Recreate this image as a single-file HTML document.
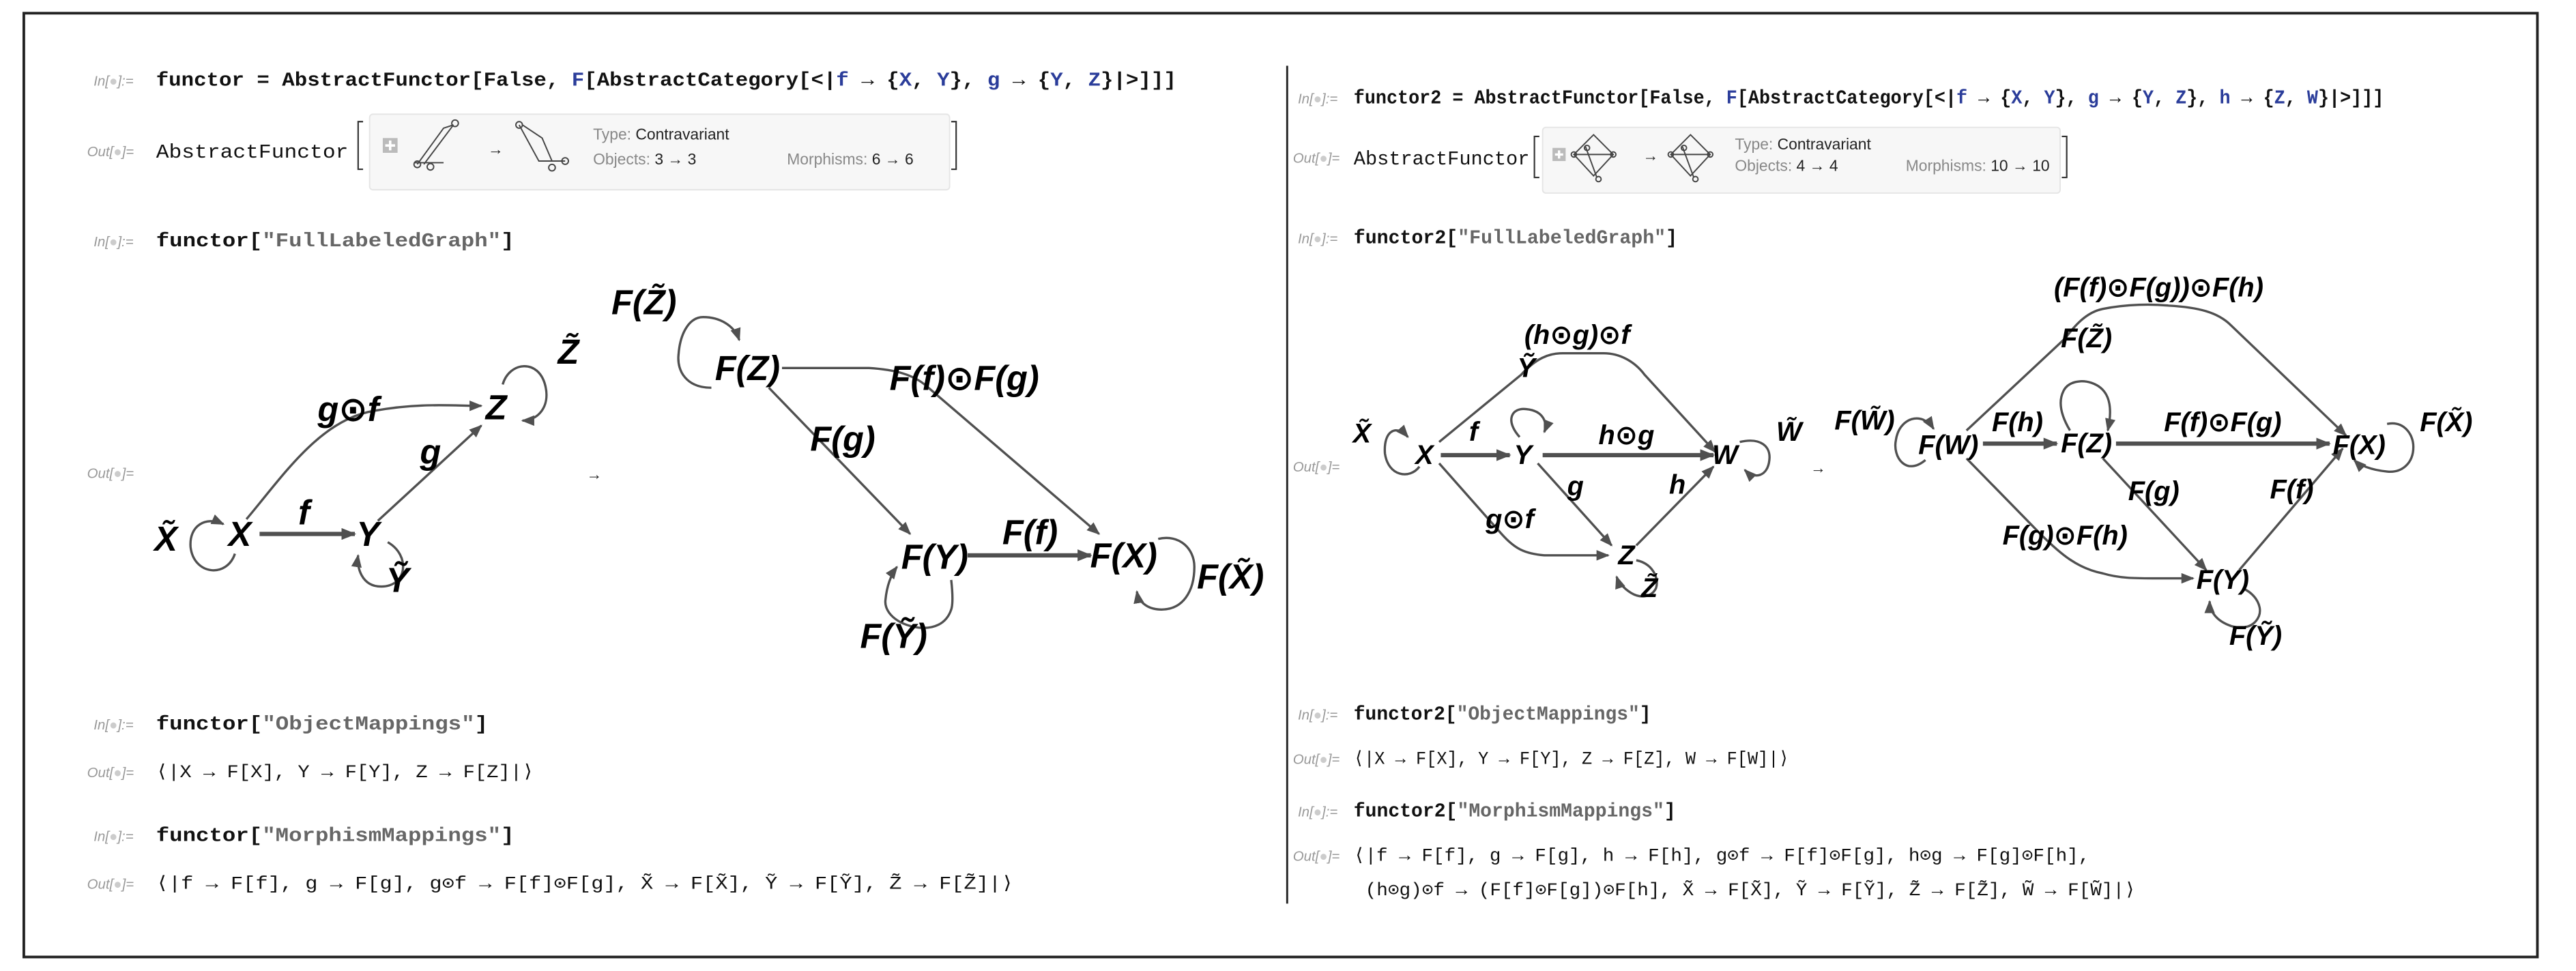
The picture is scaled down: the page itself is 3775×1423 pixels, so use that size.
<!DOCTYPE html>
<html><head><meta charset="utf-8">
<style>
html,body{margin:0;padding:0;background:#fff;}
svg{display:block;}
.lbl{font-family:"Liberation Sans",Arial,sans-serif;font-style:italic;font-size:8.5px;fill:#999;}
.code{font-family:"Liberation Mono","DejaVu Sans Mono",monospace;font-weight:bold;font-size:12px;fill:#111;}
.out{font-family:"Liberation Mono","DejaVu Sans Mono",monospace;font-size:11px;fill:#111;}
.b{fill:#2b3d9a;}
.s{fill:#666;}
.g1{font-family:"Liberation Sans","DejaVu Sans",sans-serif;font-weight:bold;font-style:italic;font-size:21px;fill:#000;}
.g2{font-family:"Liberation Sans","DejaVu Sans",sans-serif;font-weight:bold;font-style:italic;font-size:16.5px;fill:#000;}
.e{fill:none;stroke:#505050;stroke-width:1.4;}
.t{fill:none;stroke:#505050;stroke-width:2.6;}
.sm{font-family:"Liberation Sans",Arial,sans-serif;font-size:9.5px;fill:#222;}
.smg{font-family:"Liberation Sans",Arial,sans-serif;font-size:9.5px;fill:#888;}
</style></head>
<body>
<svg width="3775" height="1423" viewBox="0 0 1568 591" xmlns="http://www.w3.org/2000/svg">
<defs>
<marker id="a" viewBox="0 0 10 8" refX="9" refY="4" markerWidth="8" markerHeight="6.4" markerUnits="userSpaceOnUse" orient="auto"><path d="M0,0 L10,4 L0,8 z" fill="#505050"/></marker>
<marker id="at" viewBox="0 0 10 8" refX="9" refY="4" markerWidth="9" markerHeight="7.2" markerUnits="userSpaceOnUse" orient="auto"><path d="M0,0 L10,4 L0,8 z" fill="#505050"/></marker>
</defs>
<rect x="0" y="0" width="1568" height="591" fill="#fff"/>
<rect x="14.5" y="8" width="1530" height="574.5" fill="none" stroke="#222" stroke-width="1.6"/>
<line x1="783.5" y1="40" x2="783.5" y2="550" stroke="#222" stroke-width="1.2"/>

<!-- LEFT PANEL -->
<text class="lbl" x="57" y="52">In[<tspan fill="#ccc">●</tspan>]:=</text>
<text class="code" x="95" y="52" textLength="621" lengthAdjust="spacingAndGlyphs">functor = AbstractFunctor[False, <tspan class="b">F</tspan>[AbstractCategory[&lt;|<tspan class="b">f</tspan> → {<tspan class="b">X</tspan>, <tspan class="b">Y</tspan>}, <tspan class="b">g</tspan> → {<tspan class="b">Y</tspan>, <tspan class="b">Z</tspan>}|&gt;]]]</text>

<text class="lbl" x="53" y="95">Out[<tspan fill="#ccc">●</tspan>]=</text>
<text class="code" style="font-weight:normal" x="95" y="96" textLength="117" lengthAdjust="spacingAndGlyphs">AbstractFunctor</text>
<path d="M221,74 L218,74 L218,103 L221,103" fill="none" stroke="#333" stroke-width="0.9"/>
<rect x="225" y="69.5" width="353" height="46" rx="2" fill="#f7f7f7" stroke="#e5e5e5" stroke-width="0.8"/>
<rect x="233" y="84" width="9" height="9" fill="#bbb"/><path d="M237.5,85.5 v6 M234.5,88.5 h6" stroke="#fff" stroke-width="1.5"/>
<g fill="none" stroke="#444" stroke-width="0.8">
<path d="M254,100 L270,78 L276,76 M258,100 L270,84 L276,76 M252,99 h18"/><circle cx="254" cy="100" r="2"/><circle cx="262" cy="101.5" r="2"/><circle cx="277" cy="75" r="2"/>
<path d="M316,76 L328,98 L334,98 M318,76 L330,84 L336,98 M328,98 h16"/><circle cx="316" cy="76" r="2"/><circle cx="336" cy="102" r="2"/><circle cx="344" cy="98" r="2"/>
</g>
<text class="sm" x="297" y="94">→</text>
<text class="sm" x="361" y="85"><tspan fill="#888">Type: </tspan>Contravariant</text>
<text class="sm" x="361" y="100"><tspan fill="#888">Objects: </tspan>3 → 3</text>
<text class="sm" x="479" y="100"><tspan fill="#888">Morphisms: </tspan>6 → 6</text>
<path d="M579,74 L582,74 L582,103 L579,103" fill="none" stroke="#333" stroke-width="0.9"/>

<text class="lbl" x="57" y="150">In[<tspan fill="#ccc">●</tspan>]:=</text>
<text class="code" x="95" y="150" textLength="218" lengthAdjust="spacingAndGlyphs">functor[<tspan class="s">"FullLabeledGraph"</tspan>]</text>

<text class="lbl" x="53" y="291">Out[<tspan fill="#ccc">●</tspan>]=</text>
<text class="sm" x="357" y="292">→</text>

<!-- graph 1 -->
<path class="t" d="M158,325 L216,325" marker-end="url(#at)"/>
<path class="e" d="M150,316 C172,290 195,255 228,250 C255,245 275,247 293,247" marker-end="url(#a)"/>
<path class="e" d="M230,317 L293,259" marker-end="url(#a)"/>
<path class="e" d="M143,337 C138,352 118,350 116,333 C115,320 125,314 136,319" marker-end="url(#a)"/>
<path class="e" d="M236,330 C250,338 248,357 232,357 C220,357 217,345 218,338" marker-end="url(#a)"/>
<path class="e" d="M306,234 C310,220 328,218 332,235 C335,248 327,256 318,256" marker-end="url(#a)"/>
<g class="g1" text-anchor="middle" dominant-baseline="central">
<text x="101" y="328">X̃</text>
<text x="146" y="325">X</text>
<text x="224" y="325">Y</text>
<text x="302" y="248">Z</text>
<text x="346" y="214">Z̃</text>
<text x="242" y="353">Ỹ</text>
<text x="185" y="312">f</text>
<text x="262" y="275">g</text>
<text x="212" y="249">g⊙f</text>
</g>

<!-- graph 1 image -->
<path class="e" d="M476,224 L529,224 C545,225 556,228 564,235 L669,325" marker-end="url(#a)"/>
<path class="e" d="M468,236 L554,325" marker-end="url(#a)"/>
<path class="t" d="M589,338 L664,338" marker-end="url(#at)"/>
<path class="e" d="M433,236 C418,236 412,226 413,216 C414,202 420,193 428,193 C438,193 447,198 450,207" marker-end="url(#a)"/>
<path class="e" d="M579,353 C580,362 580,368 579,371 C576,380 568,383 559,382 C545,380 538,372 539,365 C540,355 543,349 546,345" marker-end="url(#a)"/>
<path class="e" d="M705,328 C718,325 727,334 727,345 C727,360 720,371 707,371 C698,371 693,366 692,360" marker-end="url(#a)"/>
<g class="g1" text-anchor="middle" dominant-baseline="central">
<text x="392" y="184">F(Z̃)</text>
<text x="455" y="224">F(Z)</text>
<text x="587" y="230">F(f)⊙F(g)</text>
<text x="513" y="267">F(g)</text>
<text x="569" y="339">F(Y)</text>
<text x="627" y="324">F(f)</text>
<text x="684" y="338">F(X)</text>
<text x="749" y="351">F(X̃)</text>
<text x="544" y="387">F(Ỹ)</text>
</g>

<text class="lbl" x="57" y="444">In[<tspan fill="#ccc">●</tspan>]:=</text>
<text class="code" x="95" y="444" textLength="202" lengthAdjust="spacingAndGlyphs">functor[<tspan class="s">"ObjectMappings"</tspan>]</text>
<text class="lbl" x="53" y="473">Out[<tspan fill="#ccc">●</tspan>]=</text>
<text class="out" x="95" y="473" textLength="230" lengthAdjust="spacingAndGlyphs">⟨|X → F[X], Y → F[Y], Z → F[Z]|⟩</text>
<text class="lbl" x="57" y="512">In[<tspan fill="#ccc">●</tspan>]:=</text>
<text class="code" x="95" y="512" textLength="218" lengthAdjust="spacingAndGlyphs">functor[<tspan class="s">"MorphismMappings"</tspan>]</text>
<text class="lbl" x="53" y="541">Out[<tspan fill="#ccc">●</tspan>]=</text>
<text class="out" x="95" y="541" textLength="522" lengthAdjust="spacingAndGlyphs">⟨|f → F[f], g → F[g], g⊙f → F[f]⊙F[g], X̃ → F[X̃], Ỹ → F[Ỹ], Z̃ → F[Z̃]|⟩</text>

<!-- RIGHT PANEL -->
<text class="lbl" x="790" y="63">In[<tspan fill="#ccc">●</tspan>]:=</text>
<text class="code" x="824" y="63" textLength="627" lengthAdjust="spacingAndGlyphs">functor2 = AbstractFunctor[False, <tspan class="b">F</tspan>[AbstractCategory[&lt;|<tspan class="b">f</tspan> → {<tspan class="b">X</tspan>, <tspan class="b">Y</tspan>}, <tspan class="b">g</tspan> → {<tspan class="b">Y</tspan>, <tspan class="b">Z</tspan>}, <tspan class="b">h</tspan> → {<tspan class="b">Z</tspan>, <tspan class="b">W</tspan>}|&gt;]]]</text>

<text class="lbl" x="787" y="99">Out[<tspan fill="#ccc">●</tspan>]=</text>
<text class="code" style="font-weight:normal" x="824" y="100" textLength="107" lengthAdjust="spacingAndGlyphs">AbstractFunctor</text>
<path d="M937,83 L934,83 L934,108 L937,108" fill="none" stroke="#333" stroke-width="0.9"/>
<rect x="939" y="77.5" width="315" height="40" rx="2" fill="#f7f7f7" stroke="#e5e5e5" stroke-width="0.8"/>
<rect x="945" y="90" width="8" height="8" fill="#bbb"/><path d="M949,91.5 v5 M946.5,94 h5" stroke="#fff" stroke-width="1.4"/>
<g fill="none" stroke="#444" stroke-width="0.8">
<path d="M958,94 L970,82 L982,94 L970,107 Z M958,94 h24 M965,89 L972,108"/><circle cx="958" cy="94" r="1.6"/><circle cx="982" cy="94" r="1.6"/><circle cx="966" cy="90" r="1.6"/><circle cx="973" cy="109" r="1.6"/>
<path d="M1017,94 L1029,82 L1041,94 L1029,107 Z M1017,94 h24 M1024,89 L1031,108"/><circle cx="1017" cy="94" r="1.6"/><circle cx="1041" cy="94" r="1.6"/><circle cx="1025" cy="90" r="1.6"/><circle cx="1032" cy="109" r="1.6"/>
</g>
<text class="sm" x="1000" y="98">→</text>
<text class="sm" x="1056" y="91"><tspan fill="#888">Type: </tspan>Contravariant</text>
<text class="sm" x="1056" y="104"><tspan fill="#888">Objects: </tspan>4 → 4</text>
<text class="sm" x="1160" y="104"><tspan fill="#888">Morphisms: </tspan>10 → 10</text>
<path d="M1255,83 L1258,83 L1258,108 L1255,108" fill="none" stroke="#333" stroke-width="0.9"/>

<text class="lbl" x="790" y="148">In[<tspan fill="#ccc">●</tspan>]:=</text>
<text class="code" x="824" y="148" textLength="197" lengthAdjust="spacingAndGlyphs">functor2[<tspan class="s">"FullLabeledGraph"</tspan>]</text>

<text class="lbl" x="787" y="287">Out[<tspan fill="#ccc">●</tspan>]=</text>
<text class="sm" x="1102" y="288">→</text>

<!-- graph 2 -->
<path class="t" d="M877,277 L919,277" marker-end="url(#at)"/>
<path class="t" d="M939,277 L1043,277" marker-end="url(#at)"/>
<path class="e" d="M876,269 L926,228 C935,218 943,215 951,215 L976,215 C986,215 995,220 1001,228 L1044,275" marker-end="url(#a)"/>
<path class="e" d="M936,282 L981,332" marker-end="url(#a)"/>
<path class="e" d="M996,332 L1043,284" marker-end="url(#a)"/>
<path class="e" d="M876,282 L914,325 C922,334 928,337 940,338 L979,338" marker-end="url(#a)"/>
<path class="e" d="M864,284 C858,292 845,290 843,276 C842,262 850,258 857,266" marker-end="url(#a)"/>
<path class="e" d="M925,266 C916,256 920,248 929,249 C940,250 942,258 940,263" marker-end="url(#a)"/>
<path class="e" d="M1059,269 C1072,266 1078,272 1077,280 C1076,290 1068,292 1062,286" marker-end="url(#a)"/>
<path class="e" d="M996,341 C1006,343 1010,352 1008,358 C1005,364 998,364 993,361 C988,358 985,354 984,351" marker-end="url(#a)"/>
<g class="g2" text-anchor="middle" dominant-baseline="central">
<text x="829" y="264">X̃</text>
<text x="867" y="277">X</text>
<text x="927" y="277">Y</text>
<text x="1050" y="277">W</text>
<text x="1089" y="263">W̃</text>
<text x="929" y="224">Ỹ</text>
<text x="960" y="204">(h⊙g)⊙f</text>
<text x="897" y="263">f</text>
<text x="990" y="265">h⊙g</text>
<text x="959" y="296">g</text>
<text x="1021" y="295">h</text>
<text x="919" y="316">g⊙f</text>
<text x="990" y="338">Z</text>
<text x="1004" y="358">Z̃</text>
</g>

<!-- graph 2 image -->
<path class="t" d="M1207,270 L1252,270" marker-end="url(#at)"/>
<path class="t" d="M1288,270 L1418,270" marker-end="url(#at)"/>
<path class="e" d="M1197,262 L1257,206 C1263,198 1270,190 1280,188 C1295,185 1310,185 1320,186 C1338,187 1350,190 1358,198 L1428,265" marker-end="url(#a)"/>
<path class="e" d="M1280,279 L1343,347" marker-end="url(#a)"/>
<path class="e" d="M1363,347 L1426,273" marker-end="url(#a)"/>
<path class="e" d="M1197,279 L1242,325 C1255,338 1265,346 1280,349 C1290,352 1300,352 1310,352 L1335,352" marker-end="url(#a)"/>
<path class="e" d="M1172,280 C1160,290 1152,278 1154,268 C1156,254 1170,250 1177,261" marker-end="url(#a)"/>
<path class="e" d="M1260,262 C1254,252 1253,244 1256,238 C1259,232 1267,231 1273,233 C1282,236 1287,244 1283,262" marker-end="url(#a)"/>
<path class="e" d="M1453,258 C1463,256 1469,264 1469,272 C1469,282 1462,288 1453,287 C1443,286 1436,283 1433,280" marker-end="url(#a)"/>
<path class="e" d="M1365,358 C1374,362 1377,370 1375,375 C1372,382 1365,383 1358,381 C1349,378 1345,372 1345,366" marker-end="url(#a)"/>
<g class="g2" text-anchor="middle" dominant-baseline="central">
<text x="1135" y="256">F(W̃)</text>
<text x="1186" y="271">F(W)</text>
<text x="1228" y="257">F(h)</text>
<text x="1270" y="270">F(Z)</text>
<text x="1353" y="257">F(f)⊙F(g)</text>
<text x="1436" y="271">F(X)</text>
<text x="1489" y="257">F(X̃)</text>
<text x="1270" y="206">F(Z̃)</text>
<text x="1314" y="175">(F(f)⊙F(g))⊙F(h)</text>
<text x="1311" y="299">F(g)</text>
<text x="1395" y="298">F(f)</text>
<text x="1257" y="326">F(g)⊙F(h)</text>
<text x="1353" y="353">F(Y)</text>
<text x="1373" y="387">F(Ỹ)</text>
</g>

<text class="lbl" x="790" y="438">In[<tspan fill="#ccc">●</tspan>]:=</text>
<text class="code" x="824" y="438" textLength="181" lengthAdjust="spacingAndGlyphs">functor2[<tspan class="s">"ObjectMappings"</tspan>]</text>
<text class="lbl" x="787" y="465">Out[<tspan fill="#ccc">●</tspan>]=</text>
<text class="out" x="824" y="465" textLength="265" lengthAdjust="spacingAndGlyphs">⟨|X → F[X], Y → F[Y], Z → F[Z], W → F[W]|⟩</text>
<text class="lbl" x="790" y="497">In[<tspan fill="#ccc">●</tspan>]:=</text>
<text class="code" x="824" y="497" textLength="196" lengthAdjust="spacingAndGlyphs">functor2[<tspan class="s">"MorphismMappings"</tspan>]</text>
<text class="lbl" x="787" y="524">Out[<tspan fill="#ccc">●</tspan>]=</text>
<text class="out" x="824" y="524" textLength="448" lengthAdjust="spacingAndGlyphs">⟨|f → F[f], g → F[g], h → F[h], g⊙f → F[f]⊙F[g], h⊙g → F[g]⊙F[h],</text>
<text class="out" x="831" y="545" textLength="469" lengthAdjust="spacingAndGlyphs">(h⊙g)⊙f → (F[f]⊙F[g])⊙F[h], X̃ → F[X̃], Ỹ → F[Ỹ], Z̃ → F[Z̃], W̃ → F[W̃]|⟩</text>
</svg>
</body></html>
